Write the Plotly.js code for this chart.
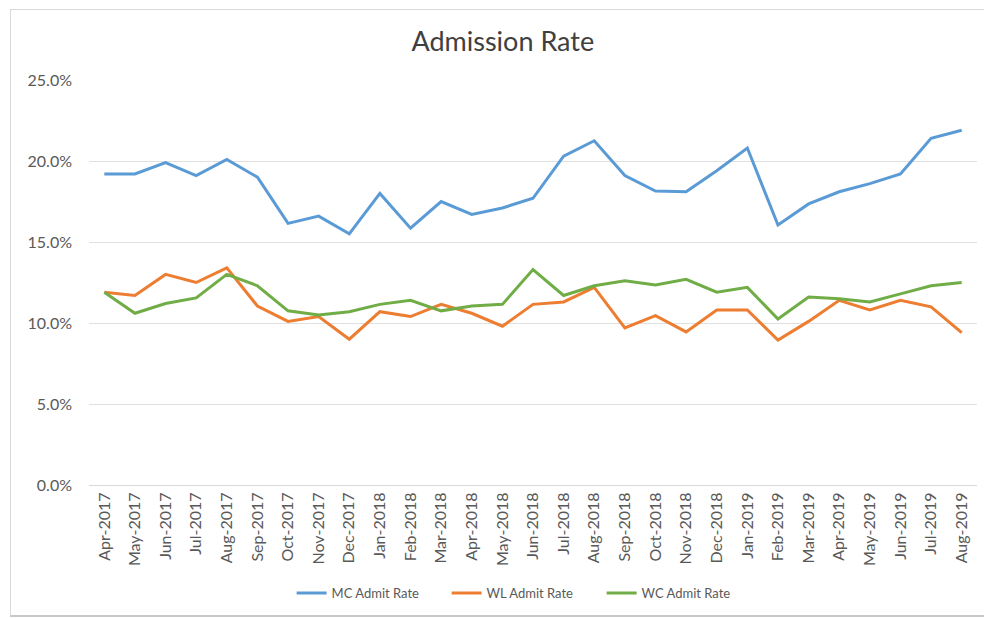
<!DOCTYPE html>
<html>
<head>
<meta charset="utf-8">
<script src="https://cdn.plot.ly/plotly-3.0.1.min.js"></script>
<style>
  html, body { margin: 0; padding: 0; background: #fff; overflow: hidden; width: 984px; height: 618px; }
  #chart { position: absolute; left: 0; top: 0; width: 984px; height: 618px; }
  #frame { position: absolute; left: 10px; top: 9px; width: 990px; height: 605px;
           border: 1px solid #d9d9d9; border-bottom: 2px solid #c8c8c8; pointer-events: none; }
</style>
</head>
<body>
<div id="chart"></div>
<div id="frame"></div>
<script>
const months = ["Apr-2017","May-2017","Jun-2017","Jul-2017","Aug-2017","Sep-2017","Oct-2017","Nov-2017","Dec-2017",
  "Jan-2018","Feb-2018","Mar-2018","Apr-2018","May-2018","Jun-2018","Jul-2018","Aug-2018","Sep-2018","Oct-2018","Nov-2018","Dec-2018",
  "Jan-2019","Feb-2019","Mar-2019","Apr-2019","May-2019","Jun-2019","Jul-2019","Aug-2019"];

const mcRate = [0.192,0.192,0.199,0.191,0.201,0.190,0.1615,0.166,0.155,
  0.180,0.1585,0.175,0.167,0.171,0.177,0.203,0.2125,0.191,0.1815,0.181,0.194,
  0.208,0.1605,0.1735,0.181,0.186,0.192,0.214,0.219];

const wlRate = [0.119,0.117,0.130,0.125,0.134,0.1105,0.101,0.104,0.090,
  0.107,0.104,0.1115,0.106,0.098,0.1115,0.113,0.122,0.097,0.1045,0.0945,0.108,
  0.108,0.0895,0.101,0.114,0.108,0.114,0.110,0.094];

const wcRate = [0.119,0.106,0.112,0.1155,0.130,0.123,0.1075,0.105,0.107,
  0.1115,0.114,0.1075,0.1105,0.1115,0.133,0.117,0.123,0.126,0.1235,0.127,0.119,
  0.122,0.1025,0.116,0.115,0.113,0.118,0.123,0.125];

const seriesNames = ["MC Admit Rate","WL Admit Rate","WC Admit Rate"];
const seriesColors = ["#5B9BD5","#ED7D31","#70AD47"];
const seriesValues = [mcRate, wlRate, wcRate];

const traces = seriesValues.map((vals, i) => ({
  type: "scatter",
  mode: "lines",
  x: months,
  y: vals,
  name: seriesNames[i],
  line: { color: seriesColors[i], width: 3 },
  hoverinfo: "x+y"
}));

const layout = {
  width: 984,
  height: 618,
  margin: { l: 89, r: 7, t: 80, b: 133 },
  paper_bgcolor: "#ffffff",
  plot_bgcolor: "#ffffff",
  font: { family: "Lato, 'Open Sans', sans-serif", color: "#595959" },
  title: {
    text: "Admission Rate",
    font: { size: 27, color: "#404040", family: "Lato, 'Open Sans', sans-serif" },
    x: 0.511, xref: "container", xanchor: "center",
    y: 0.932, yref: "container", yanchor: "middle"
  },
  xaxis: {
    type: "category",
    range: [-0.5, months.length - 0.5],
    tickangle: -90,
    tickfont: { size: 16, color: "#595959" },
    showgrid: false,
    showline: true,
    linecolor: "#d9d9d9",
    linewidth: 1,
    ticks: "",
    fixedrange: true
  },
  yaxis: {
    range: [0, 0.25],
    tickvals: [0, 0.05, 0.10, 0.15, 0.20, 0.25],
    tickformat: ".1%",
    tickfont: { size: 16, color: "#595959" },
    ticklabelstandoff: 16,
    gridcolor: "#e0e0e0",
    gridwidth: 1,
    zeroline: false,
    showline: false,
    ticks: "",
    ticklen: 0,
    automargin: false,
    fixedrange: true
  },
  showlegend: true,
  legend: {
    orientation: "h",
    x: 0.49, xanchor: "center",
    y: -0.267, yanchor: "middle",
    entrywidth: 110,
    font: { size: 13, color: "#595959" },
    bgcolor: "rgba(0,0,0,0)"
  }
};

Plotly.newPlot("chart", traces, layout, { displayModeBar: false, staticPlot: true });
</script>
</body>
</html>
